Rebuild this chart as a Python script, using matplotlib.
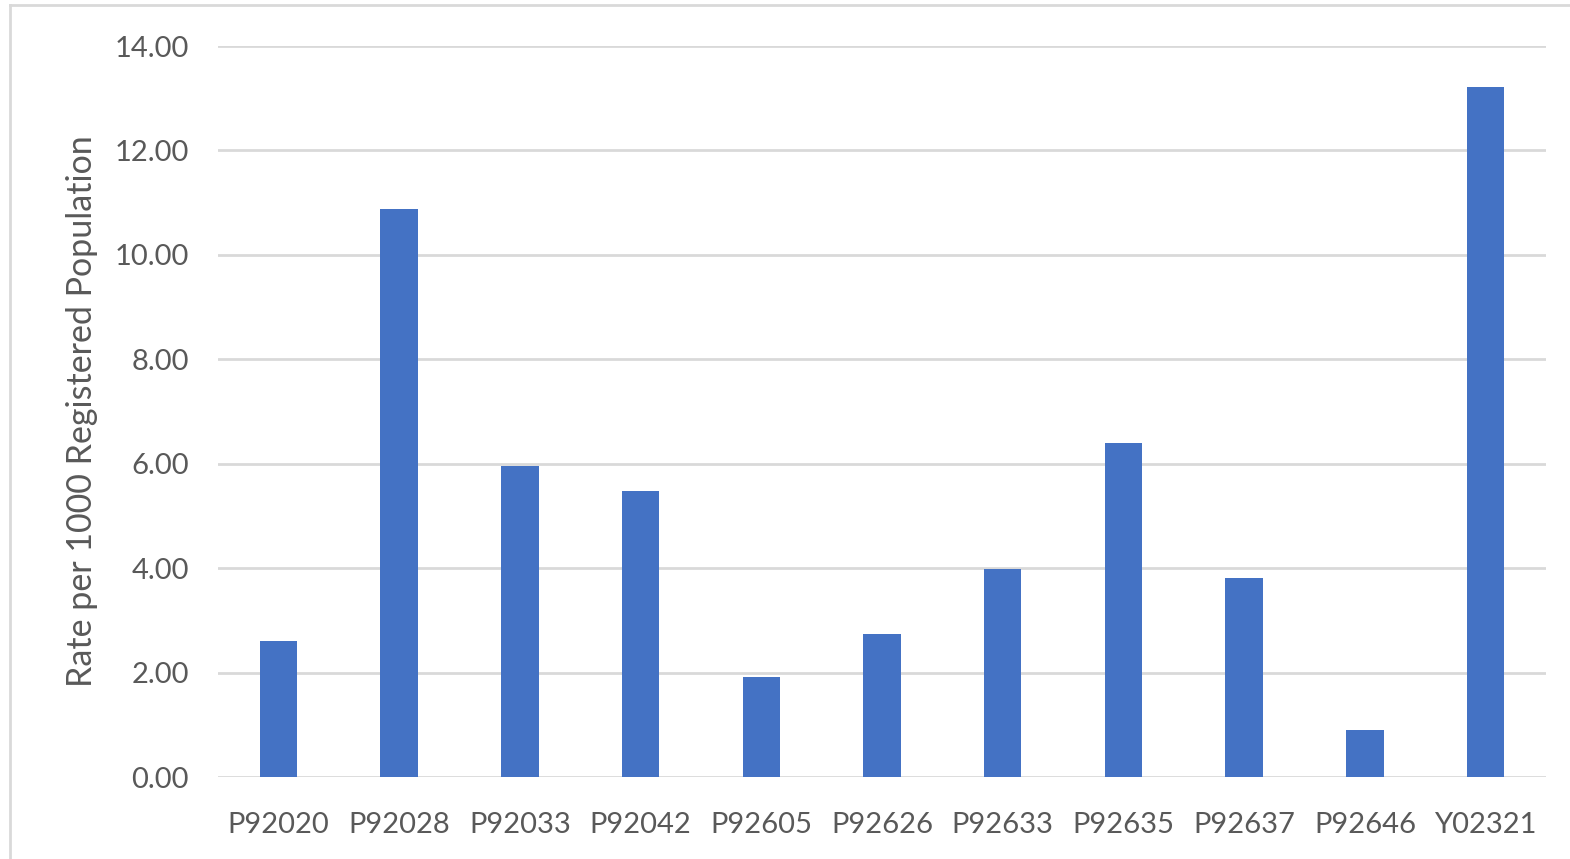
import matplotlib
matplotlib.use("Agg")
import matplotlib.pyplot as plt
import numpy as np

practices = ["P92020", "P92028", "P92033", "P92042", "P92605", "P92626",
             "P92633", "P92635", "P92637", "P92646", "Y02321"]
rates = [2.61, 10.87, 5.96, 5.48, 1.92, 2.74, 3.99, 6.40, 3.82, 0.90, 13.21]
yticks = [0, 2, 4, 6, 8, 10, 12, 14]

plt.rcParams['font.family'] = ['Lato', 'DejaVu Sans']
txt = '#595959'

fig = plt.figure(figsize=(15.7, 8.59), dpi=100)
ax = fig.add_axes([218/1570, 1 - 777/859, (1546-218)/1570, (777-46)/859])

x = np.arange(len(practices))
ax.bar(x, rates, width=0.31, color='#4472C4', zorder=3)

ax.set_xlim(-0.5, len(practices) - 0.5)
ax.set_ylim(0, 14)
ax.set_yticks(yticks)
ax.set_yticklabels(["%.2f" % v for v in yticks])
ax.set_xticks(x)
ax.set_xticklabels(practices)
ax.tick_params(axis='both', length=0, labelsize=21, colors=txt)
ax.tick_params(axis='y', pad=21)
ax.tick_params(axis='x', pad=25)
ax.grid(axis='y', color='#d9d9d9', linewidth=2, zorder=0)
for s in ax.spines.values():
    s.set_visible(False)
ax.set_ylabel("Rate per 1000 Registered Population", fontsize=24.5, color=txt, labelpad=12)

# chart frame
fig.add_artist(plt.Line2D([10/1570, 10/1570], [0, 1 - 5/859], color='#d9d9d9', lw=2))
fig.add_artist(plt.Line2D([10/1570, 1], [1 - 5/859, 1 - 5/859], color='#d9d9d9', lw=2))

fig.savefig("out.png", dpi=100)
